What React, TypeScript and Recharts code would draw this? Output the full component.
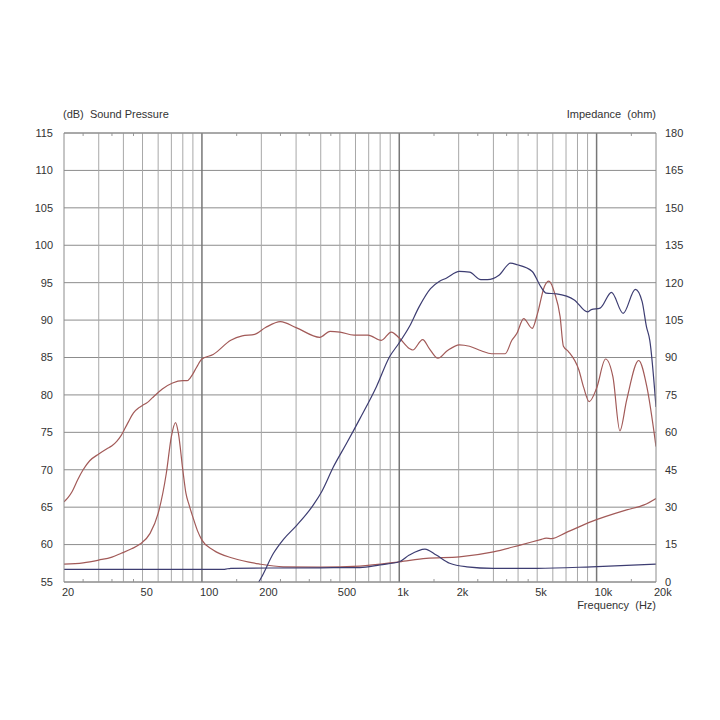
import { LineChart, Line, XAxis, YAxis, CartesianGrid, ReferenceLine } from "recharts"

// [frequency Hz, dB]
const wooferSpl = [
  [20, 65.7], [21, 66.3], [22, 67.1], [23.5, 68.7], [25, 70.0], [27, 71.2], [30, 72.1], [33, 72.8],
  [35, 73.2], [37, 73.8], [39, 74.6], [42, 76.2], [45, 77.6], [48, 78.3], [50, 78.6], [53, 79.0],
  [56, 79.6], [63, 80.8], [71, 81.6], [80, 81.9], [84, 81.9], [88, 82.4], [94, 83.7], [100, 84.8],
  [114, 85.4], [140, 87.3], [160, 87.9], [185, 88.1], [210, 89.0], [250, 89.8], [300, 89.0], [396, 87.7],
  [446, 88.5], [500, 88.4], [590, 88.0], [695, 88.0], [811, 87.3], [911, 88.4], [1000, 87.6],
  [1124, 86.2], [1170, 86.0], [1314, 87.4], [1420, 86.2], [1570, 84.9], [1750, 85.9], [2017, 86.7],
  [2270, 86.5], [2600, 85.9], [2940, 85.5], [3440, 85.5], [3720, 87.3], [3940, 88.2], [4270, 90.2],
  [4720, 88.9], [5020, 90.9], [5440, 94.5], [5730, 95.2], [6130, 93.6], [6530, 90.5], [6790, 86.5],
  [7200, 85.8], [8140, 83.3], [8600, 81.0], [9170, 79.1], [10000, 80.9], [11100, 84.8], [12100, 82.4],
  [13120, 75.2], [14200, 79.3], [16340, 84.6], [17970, 81.1], [20000, 73.1]
]

// [frequency Hz, ohm]
const wooferImp = [
  [20, 7.2], [25, 7.7], [30, 8.8], [35, 10.0], [39, 11.5], [44, 13.3], [48.6, 15.2], [54.6, 19.5],
  [60, 27.5], [66, 43.6], [70, 58.3], [73.5, 63.9], [76, 59.6], [80, 44.9], [83, 35.5], [86, 31.0],
  [90, 26.0], [95, 20.5], [100, 16.8], [114, 12.8], [144, 9.5], [196, 7.2], [258, 6.1], [400, 6.0],
  [631, 6.4], [1000, 8.1], [1370, 9.5], [2017, 10.1], [3000, 12.1], [4100, 14.8], [5200, 17.0],
  [5560, 17.6], [5900, 17.4], [7000, 19.8], [9400, 24.2], [14200, 28.9], [17400, 30.9], [20000, 33.5]
]

const tweeterSpl = [
  [194, 55.0], [200, 55.6], [230, 58.8], [259, 60.7], [303, 62.6], [367, 65.3], [405, 67.1],
  [464, 70.4], [540, 73.5], [631, 76.8], [766, 81.1], [893, 85.1], [990, 86.8], [1124, 89.1],
  [1262, 91.8], [1440, 94.2], [1600, 95.2], [1730, 95.6], [2017, 96.5], [2270, 96.4], [2590, 95.4],
  [2800, 95.4], [3200, 96.0], [3660, 97.6], [3960, 97.4], [4720, 96.5], [5200, 94.5], [5560, 93.6],
  [6270, 93.5], [7710, 92.7], [8990, 91.1], [9400, 91.4], [10420, 91.6], [11900, 93.7], [13630, 90.9],
  [15720, 94.1], [17000, 92.5], [17900, 89.1], [18600, 87.3], [20000, 78.4]
]

const tweeterImp = [
  [20, 5.1], [130, 5.1], [140, 5.5], [400, 5.7], [631, 5.8], [800, 6.9], [1000, 8.1], [1124, 10.8],
  [1350, 13.2], [1540, 10.8], [1800, 7.5], [2200, 6.1], [3000, 5.5], [5000, 5.5], [9400, 6.1],
  [20000, 7.2]
]

const freqTicks = [20, 50, 100, 200, 500, 1000, 2000, 5000, 10000, 20000]
const splTicks = [55, 60, 65, 70, 75, 80, 85, 90, 95, 100, 105, 110, 115]
const impTicks = [0, 15, 30, 45, 60, 75, 90, 105, 120, 135, 150, 165, 180]
const gridFreqs = [
  30, 40, 50, 60, 70, 80, 90, 200, 300, 400, 500, 600, 700, 800, 900,
  2000, 3000, 4000, 5000, 6000, 7000, 8000, 9000
]
const decadeFreqs = [100, 1000, 10000]
const minorFreqs = [25, 35, 45, 150, 250, 350, 450, 1500, 2500, 3500, 4500, 15000]

const toPts = (arr: number[][]) => arr.map(([f, v]) => ({ f, v }))

const font = "'Liberation Sans', Arial, sans-serif"
const textColor = "#333"
const red = "#a25a58"
const blue = "#3d3d72"

const fmtFreq = (f: number) => (f >= 1000 ? `${f / 1000}k` : `${f}`)

const FreqTick = ({ x, y, payload }: any) => (
  <text x={x - 2} y={y} dy={6} textAnchor="start" fontSize={11} fill={textColor} fontFamily={font}>
    {fmtFreq(payload.value)}
  </text>
)

export default function App() {
  return (
    <div style={{ position: "relative", width: 704, height: 640, fontFamily: font, color: textColor, background: "#fff" }}>
      <div style={{ position: "absolute", left: 55, top: 100, fontSize: 11, whiteSpace: "pre" }}>(dB)  Sound Pressure</div>
      <div style={{ position: "absolute", right: 56, top: 100, fontSize: 11, whiteSpace: "pre" }}>Impedance  (ohm)</div>
      <div style={{ position: "absolute", right: 56, top: 591, fontSize: 11, whiteSpace: "pre" }}>Frequency  (Hz)</div>
      <LineChart width={704} height={640} margin={{ top: 125, right: 16, bottom: 36, left: 16 }}>
        <CartesianGrid vertical={false} stroke="#8c8c8c" yAxisId="left" />
        {gridFreqs.map(f => (
          <ReferenceLine key={`g${f}`} x={f} yAxisId="left" stroke="#a8a8a8" strokeWidth={1} />
        ))}
        {decadeFreqs.map(f => (
          <ReferenceLine key={`d${f}`} x={f} yAxisId="left" stroke="#777" strokeWidth={1.5} />
        ))}
        {minorFreqs.map(f => (
          <ReferenceLine key={`mt${f}`} yAxisId="left" stroke="#999"
            segment={[{ x: f, y: 115 }, { x: f, y: 114.6 }]} />
        ))}
        {minorFreqs.map(f => (
          <ReferenceLine key={`mb${f}`} yAxisId="left" stroke="#999"
            segment={[{ x: f, y: 55 }, { x: f, y: 55.4 }]} />
        ))}
        <ReferenceLine y={115} yAxisId="left" stroke="#8c8c8c" />
        <XAxis
          dataKey="f"
          type="number"
          scale="log"
          domain={[20, 20000]}
          ticks={freqTicks}
          tick={<FreqTick />}
          tickLine={false}
          axisLine={{ stroke: "#8c8c8c" }}
          height={30}
          allowDataOverflow
        />
        <YAxis
          yAxisId="left"
          domain={[55, 115]}
          ticks={splTicks}
          tickLine={false}
          tickMargin={5}
          width={40}
          axisLine={{ stroke: "#8c8c8c" }}
          tick={{ fontSize: 11, fill: textColor, fontFamily: font }}
        />
        <YAxis
          yAxisId="right"
          orientation="right"
          domain={[0, 180]}
          ticks={impTicks}
          tickLine={false}
          tickMargin={3}
          width={40}
          axisLine={{ stroke: "#8c8c8c" }}
          tick={{ fontSize: 11, fill: textColor, fontFamily: font, textAnchor: "start" }}
        />
        <Line data={toPts(wooferSpl)} dataKey="v" yAxisId="left" type="monotone" stroke={red} strokeWidth={1.2} dot={false} isAnimationActive={false} />
        <Line data={toPts(wooferImp)} dataKey="v" yAxisId="right" type="monotone" stroke={red} strokeWidth={1.2} dot={false} isAnimationActive={false} />
        <Line data={toPts(tweeterSpl)} dataKey="v" yAxisId="left" type="monotone" stroke={blue} strokeWidth={1.2} dot={false} isAnimationActive={false} />
        <Line data={toPts(tweeterImp)} dataKey="v" yAxisId="right" type="monotone" stroke={blue} strokeWidth={1.2} dot={false} isAnimationActive={false} />
      </LineChart>
    </div>
  )
}
